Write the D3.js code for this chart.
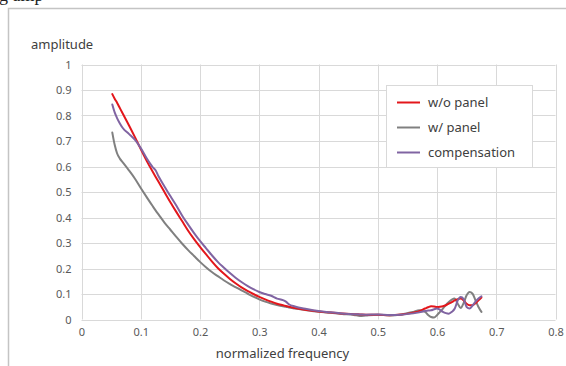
<!DOCTYPE html>
<html><head><meta charset="utf-8">
<script src="https://cdn.jsdelivr.net/npm/d3@7"></script>
<style>
html,body{margin:0;padding:0;background:#fff;overflow:hidden;}
svg{display:block;}
</style></head>
<body>
<script>
const freq = [0.052,0.056,0.06,0.065,0.07,0.08,0.09,0.1,0.11,0.12,0.125,0.13,0.14,0.15,0.16,0.17,0.18,0.19,0.2,0.21,0.22,0.23,0.24,0.25,0.26,0.27,0.28,0.29,0.3,0.31,0.32,0.33,0.34,0.345,0.35,0.36,0.38,0.4,0.42,0.44,0.46,0.47,0.48,0.5,0.52,0.54,0.56,0.57,0.58,0.585,0.59,0.595,0.6,0.605,0.61,0.615,0.62,0.625,0.63,0.635,0.64,0.645,0.65,0.655,0.66,0.665,0.67,0.675];
const woPanel = [.884,.866,.850,.828,.806,.762,.716,.668,.622,.580,.560,.540,.500,.460,.422,.385,.348,.315,.285,.256,.228,.202,.180,.160,.142,.126,.112,.100,.089,.079,.070,.062,.056,.053,.050,.045,.037,.031,.027,.024,.021,.020,.019,.019,.017,.020,.027,.033,.043,.048,.052,.051,.049,.050,.052,.056,.062,.068,.075,.080,.082,.075,.062,.056,.056,.064,.075,.086];
const wPanel = [.733,.685,.652,.630,.615,.585,.553,.516,.480,.445,.428,.412,.380,.352,.324,.297,.272,.249,.226,.205,.186,.170,.154,.140,.127,.114,.102,.090,.079,.070,.063,.057,.052,.050,.047,.043,.036,.030,.026,.022,.018,.014,.016,.019,.016,.020,.030,.036,.030,.018,.010,.008,.017,.030,.043,.057,.069,.078,.082,.062,.045,.065,.095,.108,.101,.075,.049,.030];
const compensation = [.843,.812,.790,.768,.750,.728,.705,.672,.632,.598,.585,.562,.522,.484,.447,.407,.372,.339,.308,.280,.252,.226,.204,.183,.164,.147,.132,.119,.108,.100,.093,.082,.076,.070,.060,.051,.041,.033,.028,.024,.021,.020,.019,.020,.018,.019,.024,.028,.033,.035,.036,.040,.043,.038,.030,.025,.023,.030,.043,.075,.088,.080,.049,.043,.055,.070,.082,.091];
const seriesNames = ["w/o panel","w/ panel","compensation"];
const seriesColors = ["#e3161b","#808080","#8064a2"];
const xTicks = [0,0.1,0.2,0.3,0.4,0.5,0.6,0.7,0.8];
const yTicks = [0,0.1,0.2,0.3,0.4,0.5,0.6,0.7,0.8,0.9,1];

const W = 566, H = 366;
const svg = d3.select("body").append("svg").attr("width", W).attr("height", H);
const font = "'Noto Sans', 'Open Sans', sans-serif";

// cropped caption fragment at top
svg.append("text").attr("x", -1).attr("y", 1).attr("font-family","'Liberation Serif', serif")
  .attr("font-size", 18).attr("fill","#222").text("g  amp");

// frame
svg.append("path").attr("d", `M8.5,${H} L8.5,8.5 L${W},8.5`).attr("fill","none")
  .attr("stroke","#c4c4c4").attr("stroke-width",1.5);

const x = d3.scaleLinear().domain([0,0.8]).range([81.5,555.5]);
const y = d3.scaleLinear().domain([0,1]).range([319.5,64.5]);

const grid = svg.append("g");
grid.selectAll("line.h").data(yTicks).join("line")
  .attr("x1", x(0)).attr("x2", x(0.8))
  .attr("y1", d => Math.round(y(d))+0.5).attr("y2", d => Math.round(y(d))+0.5)
  .attr("stroke","#d9d9d9").attr("stroke-width",1);
grid.selectAll("line.v").data(xTicks).join("line")
  .attr("y1", y(0)).attr("y2", y(1))
  .attr("x1", d => Math.round(x(d))+0.5).attr("x2", d => Math.round(x(d))+0.5)
  .attr("stroke","#d9d9d9").attr("stroke-width",1);

// axes labels via d3 axes
const yAxis = d3.axisLeft(y).tickValues(yTicks).tickSize(0).tickPadding(10).tickFormat(d3.format("~g"));
const gy = svg.append("g").attr("transform", `translate(${x(0)},0)`).call(yAxis);
gy.select(".domain").remove();
gy.selectAll("text").attr("font-family", font).attr("font-size", 11).attr("fill","#595959");

const xAxis = d3.axisBottom(x).tickValues(xTicks).tickSize(0).tickPadding(9).tickFormat(d3.format("~g"));
const gx = svg.append("g").attr("transform", `translate(0,${y(0)})`).call(xAxis);
gx.select(".domain").remove();
gx.selectAll("text").attr("font-family", font).attr("font-size", 11).attr("fill","#595959");

svg.append("text").attr("x", 31).attr("y", 49).attr("font-family", font).attr("font-size", 13)
  .attr("fill","#404040").text("amplitude");
svg.append("text").attr("x", 282.5).attr("y", 357.5).attr("text-anchor","middle").attr("font-family", font)
  .attr("font-size", 13).attr("fill","#404040").text("normalized frequency");

// series
const allSeries = [woPanel, wPanel, compensation];
const line = d3.line().x(d => x(d[0])).y(d => y(d[1])).curve(d3.curveMonotoneX);
const order = [1,0,2];
order.forEach(i => {
  svg.append("path").datum(freq.map((f,k) => [f, allSeries[i][k]]))
    .attr("d", line).attr("fill","none").attr("stroke", seriesColors[i])
    .attr("stroke-width", 2).attr("stroke-linejoin","round").attr("stroke-linecap","round");
});

// legend
const lg = svg.append("g");
lg.append("rect").attr("x", 386.5).attr("y", 85.5).attr("width", 146).attr("height", 82)
  .attr("fill","#fff").attr("stroke","#d9d9d9").attr("stroke-width",1);
seriesNames.forEach((n,i) => {
  const yy = 102.5 + i*25;
  lg.append("line").attr("x1", 397).attr("x2", 420).attr("y1", yy).attr("y2", yy)
    .attr("stroke", seriesColors[i]).attr("stroke-width", 2);
  lg.append("text").attr("x", 428).attr("y", yy+4.5).attr("font-family", font).attr("font-size", 13)
    .attr("fill","#404040").text(n);
});
</script>
</body></html>
